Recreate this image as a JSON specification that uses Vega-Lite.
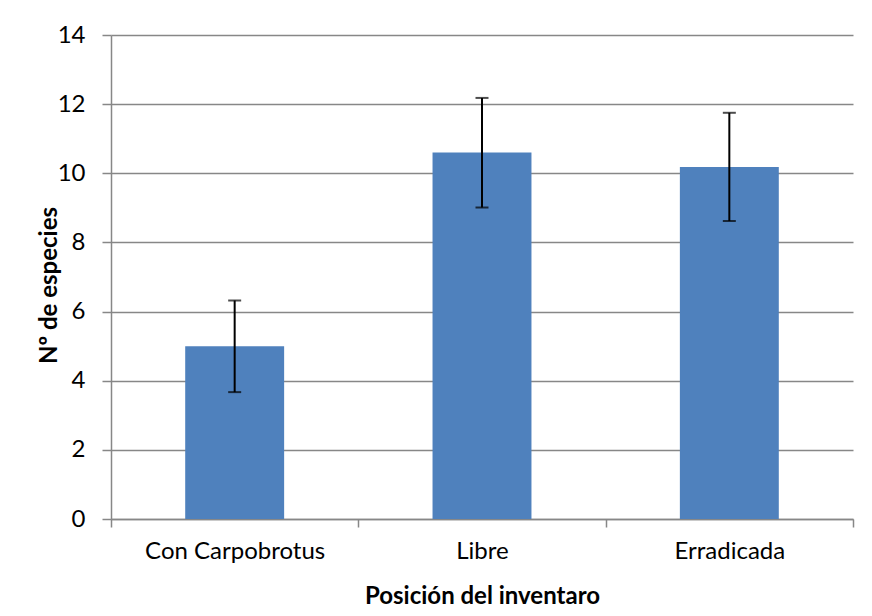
{
  "$schema": "https://vega.github.io/schema/vega-lite/v6.json",
  "width": 742,
  "height": 484,
  "autosize": {"type": "none"},
  "padding": {"left": 111, "top": 35, "right": 19, "bottom": 97},
  "background": "white",
  "data": {
    "values": [
      {"posicion": "Con Carpobrotus", "especies": 5.0, "lo": 3.67, "hi": 6.32},
      {"posicion": "Libre", "especies": 10.6, "lo": 9.01, "hi": 12.18},
      {"posicion": "Erradicada", "especies": 10.18, "lo": 8.62, "hi": 11.75}
    ]
  },
  "config": {
    "view": {"stroke": null},
    "font": "Lato",
    "axis": {
      "labelFont": "Lato",
      "titleFont": "Lato",
      "labelFontSize": 24,
      "titleFontSize": 24,
      "labelColor": "black",
      "titleColor": "black",
      "domainColor": "#878787",
      "tickColor": "#878787",
      "gridColor": "#878787",
      "domainWidth": 1.5,
      "tickWidth": 1.5,
      "gridWidth": 1.5,
      "labelLimit": 400
    }
  },
  "encoding": {
    "x": {
      "field": "posicion",
      "type": "nominal",
      "sort": null,
      "scale": {"paddingInner": 0, "paddingOuter": 0},
      "axis": {
        "title": "Posición del inventaro",
        "titleFontWeight": "bold",
        "titleBaseline": "alphabetic",
        "titleY": 84,
        "labelAngle": 0,
        "tickSize": 8,
        "tickBand": "extent",
        "labelPadding": 12,
        "labelLimit": 400,
        "grid": false
      }
    }
  },
  "layer": [
    {
      "mark": {"type": "bar", "color": "#4F81BD", "width": {"band": 0.4}},
      "encoding": {
        "y": {
          "field": "especies",
          "type": "quantitative",
          "scale": {"domain": [0, 14], "nice": false},
          "axis": {
            "title": "Nº de especies",
            "titleFontWeight": "bold",
            "values": [0, 2, 4, 6, 8, 10, 12, 14],
            "tickSize": 9,
            "labelPadding": 17,
            "grid": true,
            "titleBaseline": "alphabetic",
            "titleX": -55,
            "titleY": 250,
            "titleAngle": -90
          }
        }
      }
    },
    {
      "mark": {"type": "rule", "color": "black", "strokeWidth": 2},
      "encoding": {
        "y": {"field": "lo", "type": "quantitative"},
        "y2": {"field": "hi"}
      }
    },
    {
      "mark": {"type": "tick", "color": "black", "thickness": 2, "size": 13, "orient": "horizontal"},
      "encoding": {
        "y": {"field": "lo", "type": "quantitative"}
      }
    },
    {
      "mark": {"type": "tick", "color": "black", "thickness": 2, "size": 13, "orient": "horizontal"},
      "encoding": {
        "y": {"field": "hi", "type": "quantitative"}
      }
    }
  ]
}
